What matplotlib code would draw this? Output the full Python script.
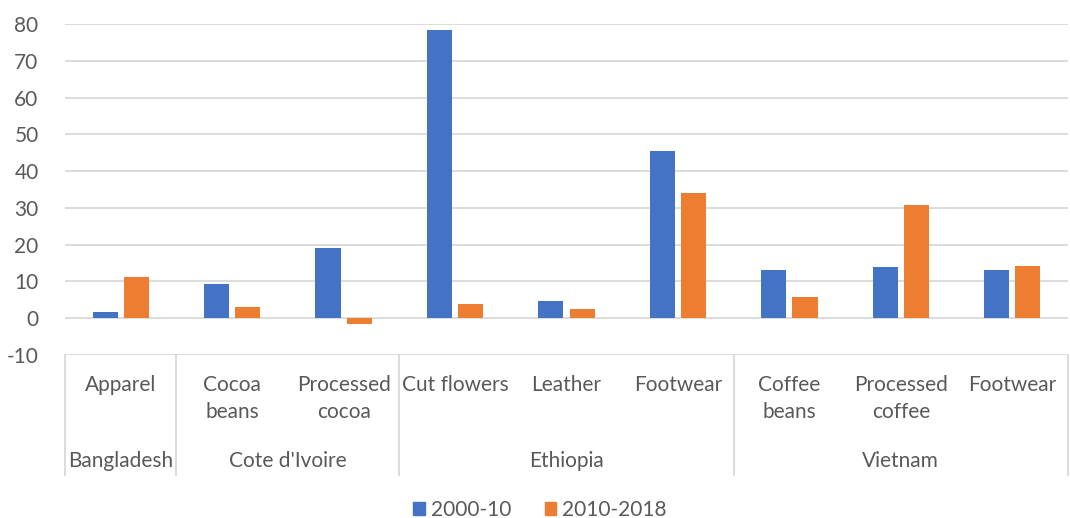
import matplotlib
matplotlib.use("Agg")
import matplotlib.pyplot as plt
from matplotlib.lines import Line2D
from matplotlib.patches import Patch
import matplotlib.transforms as mtrans
import numpy as np

plt.rcParams["axes.unicode_minus"] = False

products = ["Apparel", "Cocoa\nbeans", "Processed\ncocoa", "Cut flowers", "Leather",
            "Footwear", "Coffee\nbeans", "Processed\ncoffee", "Footwear"]
countries = ["Bangladesh", "Cote d'Ivoire", "Ethiopia", "Vietnam"]
country_sizes = [1, 2, 3, 3]
s2000 = [1.6, 9.2, 19.2, 78.3, 4.7, 45.6, 13.0, 14.0, 13.0]
s2010 = [11.2, 3.1, -1.6, 3.8, 2.4, 34.0, 5.8, 30.9, 14.3]
series_names = ["2000-10", "2010-2018"]

BLUE = "#4472C4"
ORANGE = "#ED7D31"
GRID = "#D9D9D9"
TXT = "#595959"
FONT = "Lato"

fig = plt.figure(figsize=(10.70, 5.18), dpi=100)
ax = fig.add_axes([65/1070, 1 - 355/518, (1068 - 65)/1070, (355 - 24)/518])

x = np.arange(len(products))
w = 0.225
ax.bar(x - 0.14, s2000, w, color=BLUE, zorder=3)
ax.bar(x + 0.14, s2010, w, color=ORANGE, zorder=3)

ax.set_xlim(-0.5, len(products) - 0.5)
ax.set_ylim(-10, 80)
ax.set_yticks(np.arange(-10, 81, 10))
ax.yaxis.grid(True, color=GRID, linewidth=1.3, zorder=0)
for s in ax.spines.values():
    s.set_visible(False)
ax.set_xticks([])
ax.tick_params(axis="y", length=0, pad=19, labelsize=15, labelcolor=TXT)
for lab in ax.get_yticklabels():
    lab.set_fontfamily(FONT)

trans = mtrans.blended_transform_factory(ax.transData, fig.transFigure)
# product labels
for i, p in enumerate(products):
    fig.text(i, 1 - 375/518, p, transform=trans, ha="center", va="top",
             fontsize=15, color=TXT, family=FONT, linespacing=1.45)
# country labels and separators
start = 0
bounds = [-0.5]
for c, n in zip(countries, country_sizes):
    center = start + (n - 1) / 2
    fig.text(center, 1 - 461/518, c, transform=trans, ha="center", va="center",
             fontsize=15, color=TXT, family=FONT)
    start += n
    bounds.append(start - 0.5)
for b in bounds:
    fig.add_artist(Line2D([b, b], [1 - 355/518, 1 - 475/518], transform=trans,
                          color=GRID, linewidth=1.3))

handles = [Patch(color=BLUE), Patch(color=ORANGE)]
leg = fig.legend(handles, series_names, loc="center", bbox_to_anchor=(540/1070, 1 - 510/518),
                 ncol=2, frameon=False, handlelength=0.55, handleheight=0.55,
                 handletextpad=0.3, columnspacing=1.6,
                 prop={"family": FONT, "size": 15})
for t in leg.get_texts():
    t.set_color(TXT)

fig.savefig("out.png", dpi=100)
